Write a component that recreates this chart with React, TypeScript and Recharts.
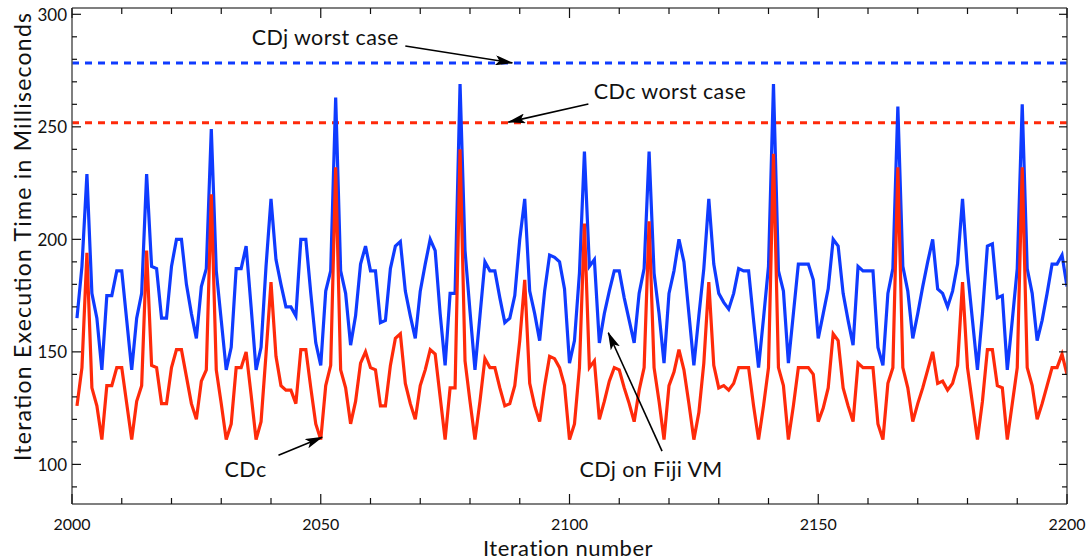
import React from 'react';
import { LineChart, Line, XAxis, YAxis, ReferenceLine, ReferenceDot } from 'recharts';

const iterationStart = 2001;

const cdjFiji = [
  165, 188, 229, 176, 165, 142, 175, 175, 186, 186,
  164, 142, 165, 176, 229, 188, 187, 165, 165, 188,
  200, 200, 180, 167, 156, 179, 187, 249, 186, 164,
  142, 152, 187, 187, 197, 170, 142, 152, 188, 218,
  191, 180, 170, 170, 166, 200, 200, 176, 154, 144,
  177, 186, 263, 186, 176, 153, 166, 189, 197, 186,
  186, 163, 164, 187, 197, 199, 177, 166, 156, 177,
  189, 200, 195, 167, 144, 176, 176, 269, 195, 168,
  142, 166, 190, 186, 186, 174, 163, 165, 175, 200,
  218, 177, 167, 155, 177, 193, 192, 190, 178, 145,
  155, 185, 239, 188, 191, 154, 167, 177, 186, 186,
  174, 164, 154, 176, 187, 239, 185, 167, 145, 176,
  186, 200, 190, 167, 144, 166, 187, 218, 189, 176,
  172, 169, 176, 187, 186, 186, 164, 143, 165, 188,
  269, 186, 177, 145, 167, 189, 189, 189, 182, 156,
  167, 178, 200, 197, 176, 164, 153, 188, 186, 186,
  186, 152, 144, 176, 187, 259, 188, 177, 156, 167,
  179, 190, 200, 178, 176, 170, 177, 189, 218, 186,
  164, 142, 167, 197, 198, 174, 175, 142, 164, 187,
  260, 187, 176, 155, 164, 176, 189, 189, 193, 179,
];

const cdc = [
  126, 143, 194, 134, 126, 111, 135, 135, 143, 143,
  127, 111, 128, 135, 195, 144, 143, 127, 127, 143,
  151, 151, 139, 127, 120, 137, 142, 220, 142, 127,
  111, 118, 143, 143, 150, 131, 111, 119, 149, 181,
  148, 135, 133, 133, 127, 151, 151, 134, 118, 111,
  135, 144, 232, 142, 134, 118, 128, 145, 150, 143,
  142, 126, 126, 144, 156, 158, 136, 127, 120, 135,
  142, 151, 149, 130, 111, 134, 134, 240, 146, 128,
  111, 128, 147, 143, 143, 134, 126, 127, 135, 155,
  182, 136, 126, 119, 135, 148, 147, 143, 135, 111,
  118, 143, 207, 143, 146, 120, 128, 137, 143, 142,
  134, 127, 119, 133, 143, 208, 143, 128, 111, 135,
  141, 151, 142, 127, 111, 123, 145, 181, 144, 134,
  135, 133, 136, 143, 143, 143, 126, 111, 126, 143,
  238, 143, 135, 111, 126, 143, 143, 143, 140, 119,
  125, 134, 158, 155, 134, 126, 119, 145, 143, 143,
  143, 118, 111, 136, 143, 232, 143, 134, 119, 127,
  134, 142, 150, 136, 137, 133, 136, 144, 181, 143,
  127, 111, 128, 151, 151, 135, 134, 111, 127, 143,
  232, 143, 135, 120, 127, 135, 143, 143, 149, 140,
];

const cdjWorstCase = 278.4;
const cdcWorstCase = 251.8;

const xTicks = [2000, 2010, 2020, 2030, 2040, 2050, 2060, 2070, 2080, 2090, 2100,
  2110, 2120, 2130, 2140, 2150, 2160, 2170, 2180, 2190, 2200];
const yTicks = [90, 100, 110, 120, 130, 140, 150, 160, 170, 180, 190, 200,
  210, 220, 230, 240, 250, 260, 270, 280, 290, 300];

const xDomain = [2000, 2200];
const yDomain = [82.4, 302.8];

const annotationTexts = ['CDj worst case', 'CDc worst case', 'CDc', 'CDj on Fiji VM'];
const annotationX = [2050.9, 2120.2, 2034.9, 2116.4];
const annotationY = [289.9, 265.9, 98.1, 98.1];

const arrowFromX = [2067.0, 2103.8, 2041.5, 2118.6];
const arrowFromY = [285.9, 260.1, 104.1, 105.9];
const arrowToX = [2088.5, 2087.7, 2050.3, 2107.8];
const arrowToY = [278.4, 252.1, 112.1, 158.5];

const data = cdc.map((v, i) => ({ iter: iterationStart + i, cdj: cdjFiji[i], cdc: v }));

const FONT = 'Lato, "Open Sans", sans-serif';
const BLUE = '#0f3bff';
const RED = '#ff2a0a';

const BottomTick = (props: any) => {
  const { x, y, payload } = props;
  const v = payload.value;
  const major = v % 50 === 0;
  return (
    <g>
      <line x1={x} y1={y} x2={x} y2={y - (major ? 10 : 6)} stroke="#111" strokeWidth={1.2} />
      {major && (
        <text x={x} y={y + 19} textAnchor="middle" dominantBaseline="central" fontFamily={FONT} fontSize={16} fill="#111">
          {v}
        </text>
      )}
    </g>
  );
};

const TopTick = (props: any) => {
  const { x, y, payload } = props;
  const major = payload.value % 50 === 0;
  return <line x1={x} y1={y} x2={x} y2={y + (major ? 10 : 6)} stroke="#111" strokeWidth={1.2} />;
};

const LeftTick = (props: any) => {
  const { x, y, payload } = props;
  const v = payload.value;
  const major = v % 50 === 0;
  return (
    <g>
      <line x1={x} y1={y} x2={x + (major ? 9 : 5)} y2={y} stroke="#111" strokeWidth={1.2} />
      {major && (
        <text x={x - 5} y={y} textAnchor="end" dominantBaseline="central" fontFamily={FONT} fontSize={17} fill="#111">
          {v}
        </text>
      )}
    </g>
  );
};

const RightTick = (props: any) => {
  const { x, y, payload } = props;
  const major = payload.value % 50 === 0;
  return <line x1={x} y1={y} x2={x - (major ? 8 : 5)} y2={y} stroke="#111" strokeWidth={1.2} />;
};

const ArrowShape = (props: any) => {
  const { x1, y1, x2, y2 } = props;
  return <line x1={x1} y1={y1} x2={x2} y2={y2} stroke="#000" strokeWidth={1.6} markerEnd="url(#arrowHead)" />;
};

const makeTextShape = (label: string) => (props: any) => (
  <text x={props.cx} y={props.cy} textAnchor="middle" dominantBaseline="central" fontFamily={FONT} fontSize={21.5}
    letterSpacing={0.4} fill="#111">
    {label}
  </text>
);

const axisLineStyle = { stroke: '#555', strokeWidth: 1.5 };

export default function App() {
  return (
    <div style={{ position: 'absolute', left: 0, top: 0, width: 1088, height: 560, background: '#fff' }}>
      <LineChart width={1088} height={560} data={data} margin={{ top: 7, right: 20, bottom: 55, left: 71 }}>
        <defs>
          <marker id="arrowHead" viewBox="0 0 18 10" refX="17" refY="5" markerWidth="18" markerHeight="10"
            orient="auto" markerUnits="userSpaceOnUse">
            <path d="M0,0 L18,5 L0,10 L4,5 z" fill="#000" />
          </marker>
        </defs>
        <XAxis dataKey="iter" type="number" domain={xDomain} ticks={xTicks} interval={0} allowDataOverflow
          height={1} tickSize={0} tickMargin={0} tickLine={false} axisLine={axisLineStyle} tick={<BottomTick />} />
        <XAxis xAxisId="top" orientation="top" dataKey="iter" type="number" domain={xDomain} ticks={xTicks} interval={0}
          allowDataOverflow height={1} tickSize={0} tickMargin={0} tickLine={false} axisLine={axisLineStyle} tick={<TopTick />} />
        <YAxis type="number" domain={yDomain} ticks={yTicks} interval={0} allowDataOverflow width={1}
          tickSize={0} tickMargin={0} tickLine={false} axisLine={axisLineStyle} tick={<LeftTick />} />
        <YAxis yAxisId="right" orientation="right" type="number" domain={yDomain} ticks={yTicks} interval={0}
          allowDataOverflow width={1} tickSize={0} tickMargin={0} tickLine={false} axisLine={axisLineStyle} tick={<RightTick />} />

        <ReferenceLine y={cdjWorstCase} stroke={BLUE} strokeWidth={3} strokeDasharray="7 6" />
        <ReferenceLine y={cdcWorstCase} stroke={RED} strokeWidth={3} strokeDasharray="7 6" />

        <Line type="linear" dataKey="cdj" stroke={BLUE} strokeWidth={3.2} dot={false} activeDot={false} isAnimationActive={false} />
        <Line type="linear" dataKey="cdc" stroke={RED} strokeWidth={3.2} dot={false} activeDot={false} isAnimationActive={false} />

        {arrowFromX.map((fx, i) => (
          <ReferenceLine key={'a' + i} segment={[{ x: fx, y: arrowFromY[i] }, { x: arrowToX[i], y: arrowToY[i] }]}
            shape={ArrowShape} ifOverflow="visible" />
        ))}
        {annotationTexts.map((t, i) => (
          <ReferenceDot key={'t' + i} x={annotationX[i]} y={annotationY[i]} r={0} ifOverflow="visible" shape={makeTextShape(t)} />
        ))}

        <text x={22} y={237} transform="rotate(-90 22 237)" textAnchor="middle" dominantBaseline="central"
          fontFamily={FONT} fontSize={23} textLength={448} lengthAdjust="spacing" fill="#111">
          Iteration Execution Time in Milliseconds
        </text>
        <text x={568} y={547} textAnchor="middle" dominantBaseline="central" fontFamily={FONT} fontSize={22}
          letterSpacing={0.5} fill="#111">
          Iteration number
        </text>
      </LineChart>
    </div>
  );
}
